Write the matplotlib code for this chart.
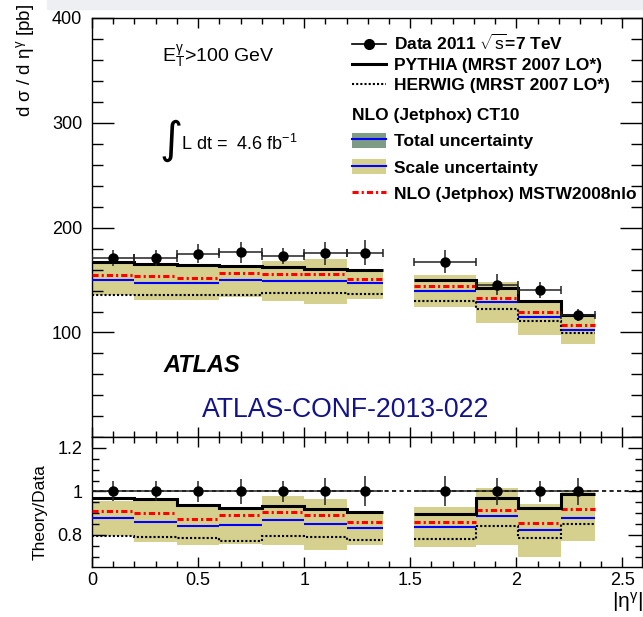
import matplotlib
matplotlib.use('Agg')
import matplotlib.pyplot as plt
from matplotlib.lines import Line2D
from matplotlib.patches import Patch, Rectangle
from matplotlib.ticker import FixedLocator, MultipleLocator, FixedFormatter
import numpy as np

plt.rcParams['font.family'] = ['Liberation Sans', 'DejaVu Sans']
plt.rcParams['mathtext.fontset'] = 'custom'
plt.rcParams['mathtext.rm'] = 'Liberation Sans'
plt.rcParams['mathtext.it'] = 'Liberation Sans:italic'
plt.rcParams['mathtext.bf'] = 'Liberation Sans:bold'

# ---------------- data ----------------
bin_lo = [0.0, 0.2, 0.4, 0.6, 0.8, 1.0, 1.2, 1.52, 1.81, 2.01, 2.21]
bin_hi = [0.2, 0.4, 0.6, 0.8, 1.0, 1.2, 1.37, 1.81, 2.01, 2.21, 2.37]
eta_pts = [0.1, 0.3, 0.5, 0.7, 0.9, 1.1, 1.285, 1.665, 1.91, 2.11, 2.29]

data_xsec = [171, 171, 175, 176.5, 173, 175.5, 176, 167.5, 145.5, 140.5, 116.5]
data_err = [8, 8, 9, 10, 8, 11, 12, 11, 10, 8, 6]
pythia = [167, 165.7, 164.4, 163, 162.5, 161, 159.4, 150.2, 142.2, 130.5, 116.2]
herwig = [136.2, 135.6, 136.2, 135.6, 137.4, 137.4, 137, 130.2, 122.5, 110.8, 99.7]
ct10 = [150.2, 147, 147, 150.2, 149.2, 148.9, 147, 140, 129.5, 115.2, 102.2]
mstw = [155.2, 154, 152.4, 157.1, 156.2, 156, 151.1, 144.1, 133, 120, 107.3]
scale_hi = [167.3, 163, 164.8, 163, 168.6, 170.2, 158.4, 155.2, 147.9, 131.4, 117.1]
scale_lo = [135.6, 130.8, 131.4, 133.7, 129.8, 127.6, 132, 124.4, 109.2, 97.5, 89.2]

r_data = [1.0, 1.0, 1.0, 1.0, 1.0, 1.0, 1.0, 1.0, 1.0, 1.0, 1.0]
r_data_err = [0.046, 0.046, 0.05, 0.057, 0.05, 0.06, 0.069, 0.069, 0.063, 0.05, 0.06]
r_pythia = [0.970, 0.965, 0.939, 0.926, 0.934, 0.920, 0.905, 0.897, 0.972, 0.926, 0.989]
r_herwig = [0.796, 0.792, 0.786, 0.773, 0.796, 0.789, 0.779, 0.782, 0.841, 0.784, 0.850]
r_ct10 = [0.878, 0.861, 0.842, 0.848, 0.867, 0.851, 0.834, 0.836, 0.885, 0.824, 0.876]
r_mstw = [0.908, 0.900, 0.873, 0.890, 0.907, 0.890, 0.859, 0.859, 0.914, 0.853, 0.919]
r_scale_hi = [0.957, 0.954, 0.934, 0.920, 0.977, 0.966, 0.904, 0.928, 1.016, 0.943, 1.000]
r_scale_lo = [0.793, 0.767, 0.754, 0.760, 0.754, 0.732, 0.754, 0.744, 0.752, 0.698, 0.770]

top_yticks = [100, 200, 300, 400]
ratio_yticks = [0.8, 1.0, 1.2]
ratio_ylabels = ['0.8', '1', '1.2']
xticks = [0, 0.5, 1.0, 1.5, 2.0, 2.5]
xticklabels = ['0', '0.5', '1', '1.5', '2', '2.5']

# ---------------- style ----------------
KHAKI = '#d5d08e'
TOTAL = '#7e9b86'
BLUE = '#0000ff'
RED = '#ff0000'
DASHDOT = (0, (2.0, 1.0, 0.7, 1.0))
DOTTED = (0, (1, 1))

W, H = 643, 617
fig = plt.figure(figsize=(W / 100, H / 100), dpi=100)
L, R = 92, 642.3
T1, B1, B2 = 18, 437.3, 566.7
ax1 = fig.add_axes([L / W, 1 - B1 / H, (R - L) / W, (B1 - T1) / H])
ax2 = fig.add_axes([L / W, 1 - B2 / H, (R - L) / W, (B2 - B1) / H])

# light grey strip at top of image
fig.patches.append(Rectangle((47 / W, 1 - 9 / H), 1 - 47 / W, 9 / H,
                             transform=fig.transFigure, color='#eeeff2', zorder=0))

lo = np.array(bin_lo)
hi = np.array(bin_hi)
regions = [slice(0, 7), slice(7, 11)]


def draw(ax, d, derr, py, hw, ct, ms, slo, shi, xcaps):
    d = np.array(d); derr = np.array(derr)
    py = np.array(py); hw = np.array(hw); ct = np.array(ct); ms = np.array(ms)
    slo = np.array(slo); shi = np.array(shi)
    ax.bar(lo, shi - slo, width=hi - lo, bottom=slo, align='edge',
           color=KHAKI, lw=0, zorder=1)
    ax.hlines(ct, lo, hi, colors=BLUE, lw=1.5, zorder=3)
    ax.hlines(ms, lo, hi, colors=RED, lw=2.2, linestyles=[DASHDOT], zorder=4)
    for sl in regions:
        edges = np.append(lo[sl], hi[sl][-1])
        ax.stairs(hw[sl], edges, baseline=None, color='k', lw=1.5,
                  linestyle=DOTTED, zorder=5)
        ax.stairs(py[sl], edges, baseline=None, color='k', lw=2.2, zorder=6)
    x = np.array(eta_pts)
    xl = x - lo
    xh = hi - x
    ax.errorbar(x, d, xerr=[xl, xh], fmt='none', ecolor='#222222', elinewidth=1.1,
                capsize=3 if xcaps else 0, capthick=1.1, zorder=8)
    ax.errorbar(x, d, yerr=derr, fmt='o', color='k', ecolor='#222222', ms=6.5,
                elinewidth=1.1, capsize=0, zorder=9)


draw(ax1, data_xsec, data_err, pythia, herwig, ct10, mstw, scale_lo, scale_hi, True)
draw(ax2, r_data, r_data_err, r_pythia, r_herwig, r_ct10, r_mstw, r_scale_lo, r_scale_hi, False)
ax2.axhline(1.0, color='k', lw=1.2, ls=(0, (2.5, 2)), zorder=7)

XMAX = 2.594
for ax in (ax1, ax2):
    ax.set_xlim(0, XMAX)
    ax.xaxis.set_major_locator(FixedLocator(xticks))
    ax.xaxis.set_minor_locator(MultipleLocator(0.1))
    for s in ax.spines.values():
        s.set_linewidth(1.0)

ax1.set_ylim(0, 400)
ax1.yaxis.set_major_locator(FixedLocator(top_yticks))
ax1.yaxis.set_minor_locator(MultipleLocator(20))
ax1.tick_params(which='both', direction='in', top=True, right=True,
                labelbottom=False, labelsize=13, width=1.0, pad=7)
ax1.tick_params(axis='y', which='major', length=15.5)
ax1.tick_params(axis='y', which='minor', length=8)
ax1.tick_params(axis='x', which='major', length=7)
ax1.tick_params(axis='x', which='minor', length=4)

ax2.set_ylim(0.654, 1.249)
ax2.yaxis.set_major_locator(FixedLocator(ratio_yticks))
ax2.yaxis.set_major_formatter(FixedFormatter(ratio_ylabels))
ax2.yaxis.set_minor_locator(MultipleLocator(0.05))
ax2.xaxis.set_major_formatter(FixedFormatter(xticklabels))
ax2.tick_params(which='both', direction='in', top=True, right=True,
                labelsize=13, width=1.0)
ax2.tick_params(axis='y', which='major', length=10, pad=7)
ax2.tick_params(axis='y', which='minor', length=5)
ax2.tick_params(axis='x', which='major', length=7, pad=4)
ax2.tick_params(axis='x', which='minor', length=4)

# axis labels
ax1.set_ylabel(r'd σ / d η$^{\mathrm{\gamma}}$ [pb]', fontsize=13.5, loc='top')
ax1.yaxis.set_label_coords((36 - L) / (R - L), (B1 - 4) / (B1 - T1))
ax2.set_ylabel('Theory/Data', fontsize=12.5)
ax2.yaxis.set_label_coords((48 - L) / (R - L), (B2 - 512) / (B2 - B1))
ax2.set_xlabel(r'|η$^{\mathrm{\gamma}}$|', fontsize=15, loc='right')
ax2.xaxis.set_label_coords(1.0, (B2 - 590) / (B2 - B1))

# text annotations
fig.text(162 / W, 1 - 62 / H, r'E$_{\mathrm{T}}^{\mathrm{\gamma}}$>100 GeV', fontsize=14,
         va='baseline', ha='left')
fig.text(159 / W, 1 - 141 / H, '∫', fontsize=32, family='DejaVu Sans',
         va='center', ha='left')
fig.text(181 / W, 1 - 150 / H, r'L dt =  4.6 fb$^{\mathrm{-1}}$', fontsize=13,
         va='baseline', ha='left')
fig.text(163 / W, 1 - 372 / H, 'ATLAS', fontsize=17, fontweight='bold',
         fontstyle='italic', va='baseline', ha='left')
fig.text(202 / W, 1 - 417 / H, 'ATLAS-CONF-2013-022', fontsize=19.2, color='#12128a',
         va='baseline', ha='left')

# legends
FS = 12.5
h_data = Line2D([], [], color='k', lw=1.2, marker='o', ms=7)
h_py = Line2D([], [], color='k', lw=2.2)
h_hw = Line2D([], [], color='k', lw=1.5, linestyle=DOTTED)
leg1 = ax1.legend([h_data, h_py, h_hw],
                  ['Data 2011 $\\sqrt{\\mathrm{s}}$=7 TeV', 'PYTHIA (MRST 2007 LO*)',
                   'HERWIG (MRST 2007 LO*)'],
                  loc='upper left', bbox_to_anchor=(352 / W, 1 - 33 / H),
                  bbox_transform=fig.transFigure, frameon=False,
                  prop={'weight': 'bold', 'size': FS}, borderpad=0, borderaxespad=0,
                  handlelength=1.95, handletextpad=0.45, labelspacing=0.28)
ax1.add_artist(leg1)

h_tot = (Patch(facecolor=TOTAL, edgecolor='none'), Line2D([], [], color=BLUE, lw=1.5))
h_sc = (Patch(facecolor=KHAKI, edgecolor='none'), Line2D([], [], color=BLUE, lw=1.5))
h_ms = Line2D([], [], color=RED, lw=2.2, linestyle=DASHDOT)
leg2 = ax1.legend([h_tot, h_sc, h_ms],
                  ['Total uncertainty', 'Scale uncertainty', 'NLO (Jetphox) MSTW2008nlo'],
                  title='NLO (Jetphox) CT10', alignment='left',
                  title_fontproperties={'weight': 'bold', 'size': FS},
                  loc='upper left', bbox_to_anchor=(352 / W, 1 - 108 / H),
                  bbox_transform=fig.transFigure, frameon=False,
                  prop={'weight': 'bold', 'size': FS}, borderpad=0, borderaxespad=0,
                  handlelength=1.95, handleheight=1.0, handletextpad=0.45,
                  labelspacing=0.55)

fig.savefig('out.png', dpi=100)
